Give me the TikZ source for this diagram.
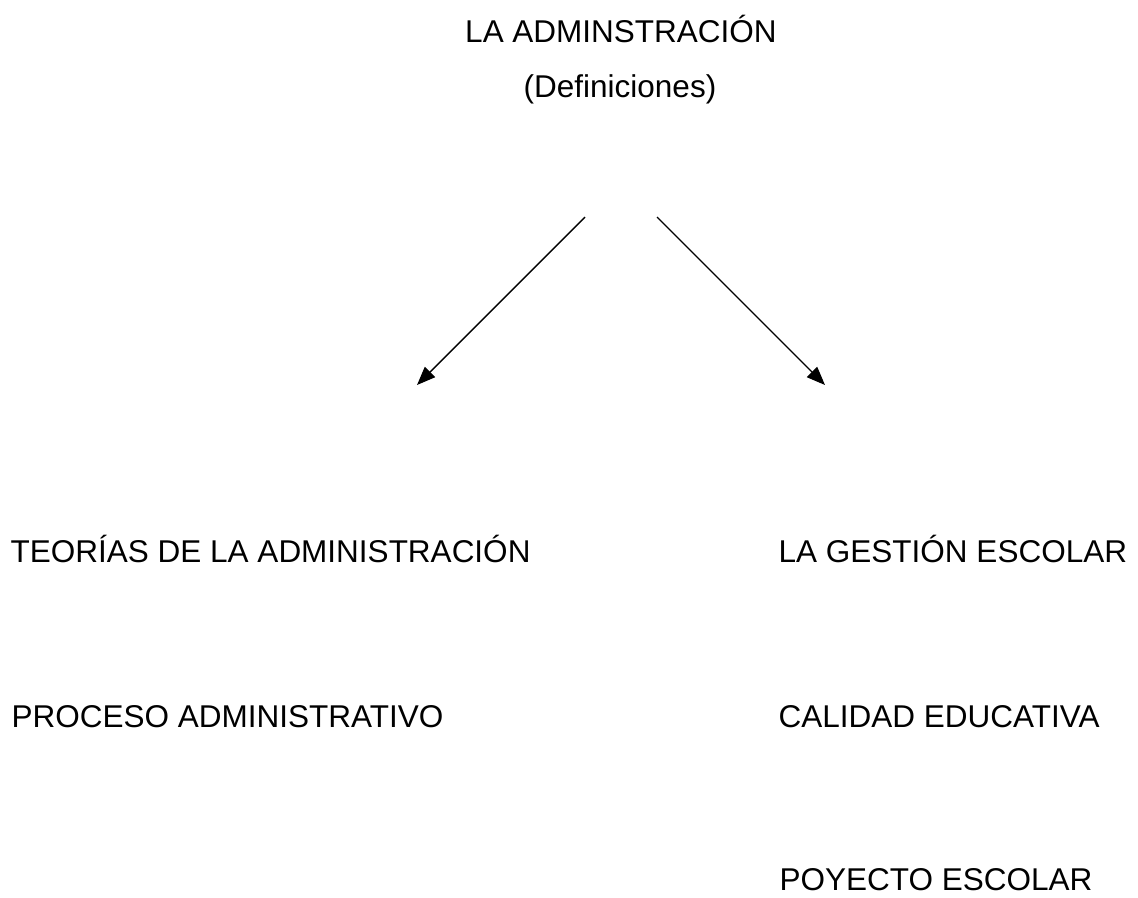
\documentclass[tikz,border=0pt]{standalone}
\usepackage{fontspec}
\setmainfont{Liberation Sans}
\usetikzlibrary{arrows.meta}
\tikzset{tema/.style={anchor=base west, inner sep=0pt},
	cabeza/.style={anchor=base, inner sep=0pt}}
\begin{document}
\begin{tikzpicture}[x=0.025cm, y=-0.025cm, line join=round, >={Triangle[length=0.46cm,width=0.36cm]}, line width=1pt, font=\fontsize{22.4}{27}\selectfont]
			\useasboundingbox (0,0) rectangle (1138,897);
			\node[cabeza] (titulo) at (621,42) {LA ADMINSTRACIÓN};
			\node[cabeza] (defin) at (620,97) {(Definiciones)};
			\coordinate (ai) at (585,217); \coordinate (bi) at (417,385);
			\coordinate (ad) at (657,217); \coordinate (bd) at (825,385);
			\draw[->] (ai)--(bi);
			\draw[->] (ad)--(bd);
			\node[tema] (teorias) at (10,562) {TEORÍAS DE LA ADMINISTRACIÓN};
			\node[tema] (proceso) at (11,727) {PROCESO ADMINISTRATIVO};
			\node[tema] (gestion) at (778,562) {LA GESTIÓN ESCOLAR};
			\node[tema] (calidad) at (778,727) {CALIDAD EDUCATIVA};
			\node[tema] (poyecto) at (779,890) {POYECTO ESCOLAR};
		\end{tikzpicture}
\end{document}
